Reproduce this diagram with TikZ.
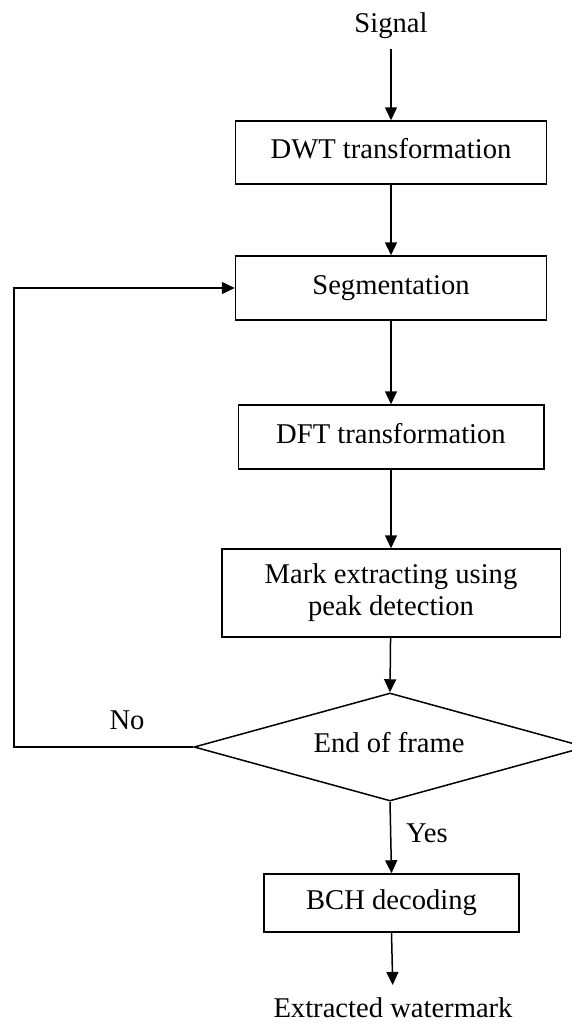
\documentclass[tikz,border=0pt]{standalone}
\usepackage{fontspec}
\setmainfont{Liberation Serif}
\usetikzlibrary{arrows.meta,shapes.geometric}
\begin{document}
\begin{tikzpicture}[x=1pt,y=-1pt,
  every node/.style={font=\fontsize{28.6}{32}\selectfont, text=black},
  box/.style={draw=black, line width=1.5pt, inner sep=0pt, text height=19pt, text depth=7pt, align=center},
  arr/.style={draw=black, line width=1.5pt, -{Triangle[length=13pt,width=12pt]}},
  lbl/.style={inner sep=0pt, anchor=base}]
\useasboundingbox (0,0) rectangle (572,1023);
\clip (0,0) rectangle (572,1023);
\node[lbl] (sig) at (391,32) {Signal};
\node[box, minimum width=311pt, minimum height=63pt] (dwt) at (391,152.5) {DWT transformation};
\node[box, minimum width=311pt, minimum height=64pt] (seg) at (391,288) {Segmentation};
\node[box, minimum width=305.5pt, minimum height=64pt] (dft) at (391,437) {DFT transformation};
\node[box, minimum width=338.5pt, minimum height=88pt, text height=, text depth=] (mark) at (391,593) {Mark extracting using\\peak detection};
\node[diamond, draw=black, line width=1.5pt, minimum width=392pt, minimum height=108pt, inner sep=0pt] (dec) at (390,747) {};
\node[lbl] (dect) at (389,752) {End of frame};
\node[box, minimum width=255pt, minimum height=58pt] (bch) at (391.5,903) {BCH decoding};
\node[lbl] (out) at (393,1017) {Extracted watermark};
\node[lbl] (no) at (127,729) {No};
\node[lbl, anchor=base west] (yes) at (406,842) {Yes};
\coordinate (fb) at (14,288);
\draw[arr, shorten <=11pt] (sig.south) -- (dwt.north);
\draw[arr] (dwt) -- (seg);
\draw[arr] (seg) -- (dft);
\draw[arr] (dft) -- (mark);
\draw[arr] (mark) -- (dec.north);
\draw[arr] (dec.south) -- (bch.north);
\draw[arr, shorten >=12pt] (bch.south) -- (out.north);
\draw[arr] (dec.west) -| (fb) -- (seg.west);
\end{tikzpicture}
\end{document}
